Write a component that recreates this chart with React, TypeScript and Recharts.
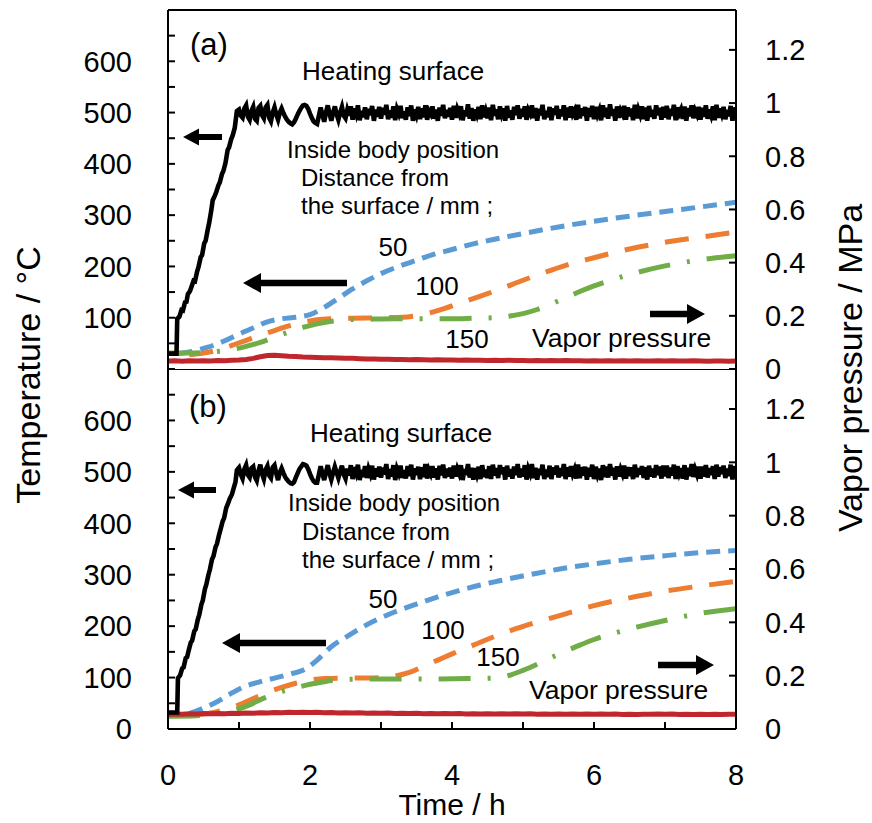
import React from 'react';
import { LineChart, Line, XAxis, YAxis, ReferenceLine } from 'recharts';

const FONT = '"Liberation Sans", Arial, Helvetica, sans-serif';

const TIME_TICKS = [0, 1, 2, 3, 4, 5, 6, 7, 8];
const TEMP_TICKS = [0, 50, 100, 150, 200, 250, 300, 350, 400, 450, 500, 550, 600, 650, 700];
const PRESS_TICKS = [0, 0.2, 0.4, 0.6, 0.8, 1, 1.2];

// ---------- panel (a) ----------
const heatRiseT_A = [0, 0.12, 0.13, 0.16, 0.19, 0.21, 0.24, 0.26, 0.28, 0.31, 0.33, 0.36, 0.38, 0.41, 0.43, 0.46, 0.48, 0.51, 0.53, 0.56, 0.58, 0.61, 0.63, 0.66, 0.68, 0.71, 0.73, 0.76, 0.78, 0.81, 0.84, 0.86, 0.89, 0.91, 0.94, 0.97];
const heatRiseV_A = [30, 30, 98, 102, 115, 114, 130, 131, 146, 152, 160, 172, 171, 190, 199, 218, 222, 245, 250, 272, 285, 310, 329, 338, 345, 358, 364, 380, 386, 402, 427, 432, 448, 455, 470, 503];
const heatNoiseStart = 1.0;
const heatNoiseStep = 0.025;
const heatNoiseV_A = [
  506, 494, 490, 508, 514, 492, 486, 503, 511, 488, 484, 509, 513, 495, 489, 510, 515, 490, 483, 500,
  510, 496, 486, 500, 508, 499, 492, 486, 482, 479, 477, 481, 488, 496, 503, 509, 514, 515, 513, 507,
  498, 490, 483, 480, 478, 494, 510, 496, 482, 500, 514, 498, 484, 499, 512, 497, 486, 500, 511, 494,
  489, 505, 494, 512, 486, 508, 497, 514, 485, 503, 491, 510, 487, 507, 495, 513, 484, 506, 492, 511,
  488, 509, 496, 515, 487, 504, 490, 512, 485, 507, 498, 513, 489, 502, 486, 510, 493, 514, 484, 506,
  495, 511, 487, 508, 491, 514, 486, 503, 497, 512, 488, 506, 484, 510, 494, 515, 489, 505, 492, 509,
  486, 513, 490, 507, 498, 512, 485, 504, 493, 516, 488, 509, 484, 506, 496, 511, 487, 514, 491, 503,
  489, 510, 485, 515, 494, 506, 487, 512, 497, 508, 484, 513, 490, 504, 486, 511, 495, 514, 488, 507,
  492, 512, 486, 505, 498, 514, 489, 509, 484, 507, 495, 515, 487, 503, 491, 511, 485, 508, 496, 513,
  488, 506, 493, 514, 485, 510, 490, 512, 497, 504, 486, 515, 489, 508, 494, 511, 484, 509, 492, 513,
  487, 511, 496, 505, 485, 514, 491, 509, 488, 516, 494, 507, 484, 512, 490, 504, 497, 513, 486, 510,
  493, 508, 485, 515, 489, 506, 496, 512, 487, 510, 484, 513, 492, 505, 488, 514, 495, 509, 486, 511,
  490, 513, 487, 507, 494, 515, 485, 510, 498, 506, 488, 512, 484, 509, 493, 514, 489, 504, 496, 511,
  486, 509, 492, 514, 488, 506, 495, 512, 485, 515, 490, 508, 497, 511, 487, 505, 493, 513, 484, 510,
  494,
];
const blueT_A = [0.15, 0.3, 0.55, 0.8, 1.0, 1.2, 1.4, 1.6, 1.8, 2.0, 2.2, 2.4, 2.6, 2.8, 3.0, 3.25, 3.5, 3.75, 4.0, 4.3, 4.6, 5.0, 5.5, 6.0, 6.5, 7.0, 7.5, 8.0];
const blueV_A = [30, 33, 42, 55, 68, 80, 92, 98, 101, 106, 120, 138, 156, 172, 186, 200, 212, 224, 233, 244, 253, 264, 277, 288, 298, 307, 316, 325];
const orangeT_A = [0.3, 0.5, 0.7, 0.9, 1.1, 1.3, 1.5, 1.7, 1.9, 2.1, 2.3, 2.6, 3.0, 3.3, 3.5, 3.7, 3.9, 4.1, 4.4, 4.7, 5.0, 5.3, 5.6, 6.0, 6.5, 7.0, 7.5, 8.0];
const orangeV_A = [28, 31, 37, 46, 56, 66, 75, 84, 91, 96, 98, 99, 100, 101, 104, 110, 118, 128, 142, 157, 173, 188, 202, 217, 234, 247, 257, 267];
const greenT_A = [0, 0.3, 0.6, 0.9, 1.1, 1.3, 1.5, 1.7, 1.9, 2.1, 2.3, 2.5, 2.8, 3.2, 3.6, 4.0, 4.3, 4.6, 4.8, 5.0, 5.2, 5.4, 5.6, 5.8, 6.0, 6.3, 6.6, 7.0, 7.5, 8.0];
const greenV_A = [31, 31, 33, 38, 44, 52, 62, 72, 81, 88, 93, 96, 97, 98, 98, 98, 99, 100, 103, 108, 116, 127, 139, 151, 162, 176, 188, 201, 213, 221];
const redStep = 0.1;
const redV_A = [
  0.030, 0.031, 0.029, 0.031, 0.030, 0.031, 0.030, 0.032, 0.031, 0.033,
  0.034, 0.036, 0.040, 0.046, 0.051, 0.052, 0.050, 0.048, 0.047, 0.045,
  0.044, 0.043, 0.042, 0.042, 0.041, 0.040, 0.040, 0.039, 0.038, 0.038,
  0.037, 0.037, 0.036, 0.036, 0.035, 0.036, 0.035, 0.034, 0.035, 0.034,
  0.034, 0.033, 0.034, 0.033, 0.033, 0.032, 0.033, 0.032, 0.033, 0.032,
  0.032, 0.031, 0.032, 0.031, 0.032, 0.031, 0.032, 0.031, 0.031, 0.030,
  0.031, 0.030, 0.031, 0.030, 0.031, 0.030, 0.031, 0.030, 0.030, 0.031,
  0.030, 0.031, 0.030, 0.030, 0.031, 0.030, 0.029, 0.030, 0.030, 0.029,
  0.030,
];

// ---------- panel (b) ----------
const heatRiseT_B = [0, 0.13, 0.14, 0.17, 0.2, 0.22, 0.25, 0.27, 0.29, 0.32, 0.34, 0.37, 0.39, 0.42, 0.44, 0.47, 0.49, 0.52, 0.54, 0.57, 0.59, 0.62, 0.64, 0.67, 0.69, 0.72, 0.74, 0.77, 0.79, 0.82, 0.85, 0.87, 0.9, 0.92, 0.95, 0.97];
const heatRiseV_B = [32, 32, 99, 104, 118, 120, 138, 140, 152, 168, 172, 190, 194, 213, 222, 242, 250, 272, 281, 300, 310, 330, 336, 354, 360, 378, 388, 404, 410, 430, 440, 448, 456, 466, 480, 503];
const heatNoiseV_B = [
  508, 495, 487, 505, 513, 494, 489, 507, 510, 490, 483, 502, 514, 496, 486, 504, 511, 493, 488, 509,
  513, 497, 484, 499, 507, 498, 490, 485, 481, 478, 477, 480, 489, 497, 505, 510, 515, 514, 512, 505,
  496, 488, 482, 479, 479, 495, 511, 497, 484, 499, 513, 497, 485, 498, 510, 499, 488, 501, 512, 495,
  487, 506, 493, 513, 486, 509, 498, 514, 484, 504, 490, 511, 488, 506, 496, 512, 485, 507, 491, 510,
  489, 508, 495, 515, 486, 505, 491, 513, 484, 506, 497, 512, 488, 503, 487, 511, 492, 514, 485, 507,
  494, 510, 486, 509, 490, 515, 487, 504, 496, 511, 489, 507, 485, 512, 493, 514, 488, 506, 491, 508,
  487, 512, 491, 506, 497, 513, 484, 505, 494, 515, 489, 508, 485, 507, 495, 510, 486, 513, 490, 504,
  488, 511, 486, 514, 493, 507, 488, 513, 496, 509, 485, 512, 491, 505, 487, 510, 494, 515, 489, 506,
  491, 513, 485, 506, 497, 515, 488, 508, 485, 506, 494, 514, 486, 504, 490, 512, 486, 509, 495, 512,
  489, 507, 492, 515, 486, 509, 491, 511, 496, 505, 487, 514, 488, 509, 493, 510, 485, 508, 491, 514,
  486, 510, 495, 506, 484, 513, 490, 510, 489, 515, 493, 508, 485, 511, 491, 505, 496, 512, 487, 509,
  492, 509, 486, 514, 490, 507, 495, 511, 488, 509, 485, 512, 491, 506, 489, 513, 494, 510, 487, 512,
  491, 512, 488, 508, 493, 514, 486, 511, 497, 507, 487, 513, 485, 508, 492, 515, 490, 505, 495, 510,
  487, 510, 491, 513, 489, 507, 494, 511, 486, 514, 491, 509, 496, 512, 488, 506, 492, 514, 485, 511,
  497,
];
const blueT_B = [0.3, 0.45, 0.65, 0.85, 1.05, 1.3, 1.5, 1.7, 1.95, 2.1, 2.3, 2.5, 2.7, 2.95, 3.2, 3.5, 3.8, 4.1, 4.4, 4.8, 5.2, 5.6, 6.0, 6.5, 7.0, 7.5, 8.0];
const blueV_B = [30, 38, 50, 66, 81, 92, 99, 106, 118, 134, 160, 178, 195, 213, 228, 243, 257, 269, 280, 292, 303, 313, 321, 330, 337, 343, 347];
const orangeT_B = [0.4, 0.6, 0.8, 1.0, 1.2, 1.4, 1.6, 1.8, 2.0, 2.2, 2.5, 2.8, 3.05, 3.2, 3.4, 3.6, 3.8, 4.0, 4.3, 4.6, 4.9, 5.2, 5.6, 6.0, 6.5, 7.0, 7.5, 8.0];
const orangeV_B = [28, 31, 38, 47, 59, 71, 81, 89, 95, 98, 99, 99, 100, 103, 110, 122, 134, 146, 163, 180, 195, 208, 224, 240, 255, 268, 278, 287];
const greenT_B = [0, 0.4, 0.7, 0.95, 1.15, 1.35, 1.6, 1.8, 2.0, 2.2, 2.4, 2.7, 3.2, 3.7, 4.2, 4.6, 4.8, 5.0, 5.2, 5.4, 5.6, 5.8, 6.0, 6.3, 6.6, 7.0, 7.5, 8.0];
const greenV_B = [25, 26, 30, 37, 47, 60, 73, 80, 87, 92, 96, 97, 97, 97, 98, 99, 104, 114, 126, 139, 151, 163, 174, 187, 198, 211, 225, 234];
const redV_B = [
  0.054, 0.056, 0.055, 0.057, 0.056, 0.058, 0.057, 0.058, 0.057, 0.059,
  0.058, 0.060, 0.059, 0.061, 0.060, 0.062, 0.061, 0.063, 0.062, 0.063,
  0.062, 0.063, 0.061, 0.062, 0.060, 0.061, 0.060, 0.061, 0.059, 0.060,
  0.059, 0.060, 0.058, 0.059, 0.058, 0.059, 0.057, 0.058, 0.057, 0.058,
  0.057, 0.058, 0.056, 0.057, 0.056, 0.057, 0.056, 0.057, 0.056, 0.057,
  0.056, 0.057, 0.055, 0.056, 0.055, 0.056, 0.055, 0.056, 0.055, 0.056,
  0.055, 0.056, 0.055, 0.056, 0.054, 0.055, 0.054, 0.055, 0.055, 0.056,
  0.055, 0.056, 0.054, 0.055, 0.054, 0.055, 0.054, 0.055, 0.054, 0.055,
  0.055,
];

const COLORS = { heat: '#000000', blue: '#5B9BD5', orange: '#ED7D31', green: '#70AD47', red: '#C0272D' };

type Pt = { t: number; v: number };
const pairs = (ts: number[], vs: number[]): Pt[] => ts.map((t, i) => ({ t, v: vs[i] }));
const stepped = (start: number, step: number, vs: number[]): Pt[] =>
  vs.map((v, i) => ({ t: Math.round((start + i * step) * 1000) / 1000, v }));

const buildPanel = (
  riseT: number[], riseV: number[], noise: number[],
  bT: number[], bV: number[], oT: number[], oV: number[], gT: number[], gV: number[], rV: number[]
) => ({
  heat: [...pairs(riseT, riseV), ...stepped(heatNoiseStart, heatNoiseStep, noise)],
  blue: pairs(bT, bV),
  orange: pairs(oT, oV),
  green: pairs(gT, gV),
  red: stepped(0, redStep, rV),
});

const panelA = buildPanel(heatRiseT_A, heatRiseV_A, heatNoiseV_A, blueT_A, blueV_A, orangeT_A, orangeV_A, greenT_A, greenV_A, redV_A);
const panelB = buildPanel(heatRiseT_B, heatRiseV_B, heatNoiseV_B, blueT_B, blueV_B, orangeT_B, orangeV_B, greenT_B, greenV_B, redV_B);

const tickStyle = { fontSize: 29, fill: '#000', fontFamily: FONT };
const axisLine = { stroke: '#000', strokeWidth: 2 };

function Panel({ data, height, marginTop, marginBottom, xHeight, showX }: any) {
  return (
    <LineChart width={872} height={height} margin={{ top: marginTop, right: 0, bottom: marginBottom, left: 0 }}>
      <XAxis
        type="number" dataKey="t" domain={[0, 8]} ticks={TIME_TICKS} interval={0} height={xHeight}
        allowDataOverflow tickSize={-7} tickMargin={42} tick={tickStyle}
        tickFormatter={(v: number) => (showX && v % 2 === 0 ? String(v) : '')}
        axisLine={axisLine} tickLine={axisLine}
      />
      <YAxis
        yAxisId="temp" orientation="left" width={168} domain={[0, 700]} ticks={TEMP_TICKS} interval={0}
        allowDataOverflow tickSize={-7} tickMargin={43} tick={tickStyle}
        tickFormatter={(v: number) => (v % 100 === 0 && v < 700 ? String(v) : '')}
        axisLine={axisLine} tickLine={axisLine}
      />
      <YAxis
        yAxisId="press" orientation="right" width={136} domain={[0, 1.35]} ticks={PRESS_TICKS} interval={0}
        allowDataOverflow tickSize={-7} tickMargin={36} tick={{ ...tickStyle, textAnchor: 'start' }}
        tickFormatter={(v: number) => String(v)}
        axisLine={axisLine} tickLine={axisLine}
      />
      <ReferenceLine yAxisId="temp" y={700} stroke="#000" strokeWidth={2} />
      <Line yAxisId="temp" data={data.blue} dataKey="v" type="monotone" stroke={COLORS.blue} strokeWidth={5}
        strokeDasharray="14 8" dot={false} activeDot={false} isAnimationActive={false} />
      <Line yAxisId="temp" data={data.orange} dataKey="v" type="monotone" stroke={COLORS.orange} strokeWidth={5}
        strokeDasharray="24 17" dot={false} activeDot={false} isAnimationActive={false} />
      <Line yAxisId="temp" data={data.green} dataKey="v" type="monotone" stroke={COLORS.green} strokeWidth={5}
        strokeDasharray="32 17 3 17" dot={false} activeDot={false} isAnimationActive={false} />
      <Line yAxisId="press" data={data.red} dataKey="v" type="linear" stroke={COLORS.red} strokeWidth={5}
        dot={false} activeDot={false} isAnimationActive={false} />
      <Line yAxisId="temp" data={data.heat} dataKey="v" type="linear" stroke={COLORS.heat} strokeWidth={4.6}
        strokeLinejoin="miter" dot={false} activeDot={false} isAnimationActive={false} />
    </LineChart>
  );
}

function Arrow({ tip, tail, y, head = 18, half = 10, shaft = 6.5 }: any) {
  const d = tip < tail ? 1 : -1;
  const hb = tip + d * head;
  const pts = [
    [tip, y], [hb, y - half], [hb, y - shaft / 2], [tail, y - shaft / 2],
    [tail, y + shaft / 2], [hb, y + shaft / 2], [hb, y + half],
  ].map((p) => p.join(',')).join(' ');
  return <polygon points={pts} fill="#000" />;
}

function Annotations({ a }: { a: any }) {
  const T = (x: number, y: number, s: number, txt: string, anchor: any = 'start') => (
    <text x={x} y={y} fontSize={s} fontFamily={FONT} fill="#000" textAnchor={anchor}>{txt}</text>
  );
  return (
    <g>
      {T(a.label[0], a.label[1], 31, a.name, 'middle')}
      {T(a.heat[0], a.heat[1], 26, 'Heating surface')}
      {T(a.inside[0], a.inside[1], 24, 'Inside body position')}
      {T(a.dist[0], a.dist[1], 24, 'Distance from')}
      {T(a.surf[0], a.surf[1], 24, 'the surface / mm ;')}
      {T(a.n50[0], a.n50[1], 26, '50', 'middle')}
      {T(a.n100[0], a.n100[1], 26, '100', 'middle')}
      {T(a.n150[0], a.n150[1], 26, '150', 'middle')}
      {T(a.vp[0], a.vp[1], 26.5, 'Vapor pressure')}
      <Arrow tip={a.arr1[0]} tail={a.arr1[1]} y={a.arr1[2]} head={16} half={8.5} shaft={6} />
      <Arrow tip={a.arr2[0]} tail={a.arr2[1]} y={a.arr2[2]} />
      <Arrow tip={a.arr3[0]} tail={a.arr3[1]} y={a.arr3[2]} />
    </g>
  );
}

const annA = {
  name: '(a)', label: [209, 55], heat: [302, 80], inside: [287, 158], dist: [301, 186], surf: [301, 214],
  n50: [393, 256], n100: [437, 295], n150: [467, 348], vp: [532, 347],
  arr1: [183, 222, 137], arr2: [243, 347, 283], arr3: [705, 650, 314],
};
const annB = {
  name: '(b)', label: [208, 417], heat: [310, 442], inside: [288, 511], dist: [302, 540], surf: [302, 568],
  n50: [383, 608], n100: [443, 639], n150: [498, 666], vp: [529, 699],
  arr1: [178, 216, 490], arr2: [222, 326, 643], arr3: [714, 658, 665],
};

export default function App() {
  return (
    <div style={{ position: 'absolute', left: 0, top: 0, width: 872, height: 823, background: '#fff' }}>
      <div style={{ position: 'absolute', left: 0, top: 0 }}>
        <Panel data={panelA} height={392} marginTop={10} marginBottom={23} xHeight={0} showX={false} />
      </div>
      <div style={{ position: 'absolute', left: 0, top: 369 }}>
        <Panel data={panelB} height={454} marginTop={0} marginBottom={0} xHeight={94} showX={true} />
      </div>
      <svg width={872} height={823} style={{ position: 'absolute', left: 0, top: 0, pointerEvents: 'none' }}>
        <Annotations a={annA} />
        <Annotations a={annB} />
        <text transform="translate(40,375) rotate(-90)" textAnchor="middle" fontSize={34} fontFamily={FONT} fill="#000">
          Temperature / °C
        </text>
        <text transform="translate(862,368) rotate(-90)" textAnchor="middle" fontSize={34} fontFamily={FONT} fill="#000">
          Vapor pressure / MPa
        </text>
        <text x={452} y={815} textAnchor="middle" fontSize={30} fontFamily={FONT} fill="#000">
          Time / h
        </text>
      </svg>
    </div>
  );
}
